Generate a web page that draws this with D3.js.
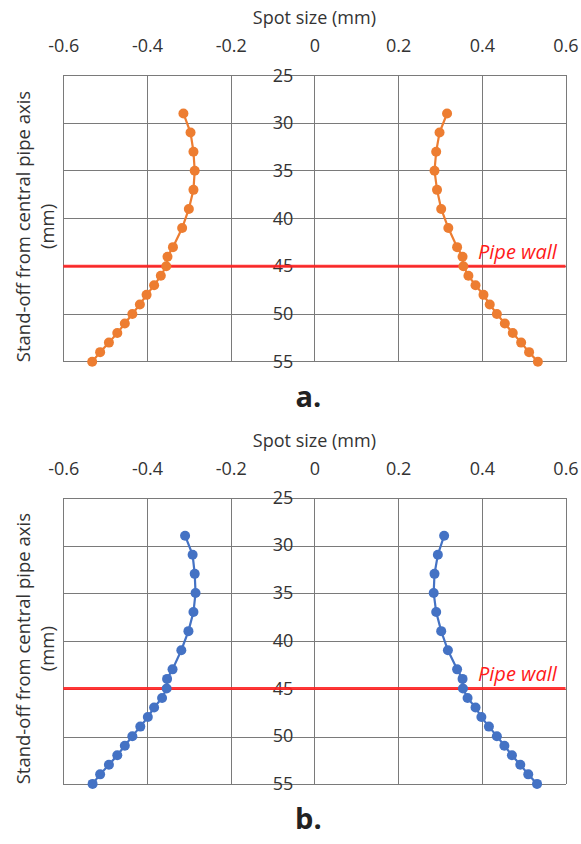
<!DOCTYPE html>
<html>
  <head>
    <title>Spot size vs stand-off</title>
    <script src="https://d3js.org/d3.v7.min.js"></script>
    <style>
      body { margin: 0; background: #fff; }
      text { font-family: "Open Sans", sans-serif; fill: #333; }
      .axis .domain { display: none; }
      .axis .tick line { display: none; }
      .axis .tick text { font-size: 18px; fill: #333; }
      .grid line { stroke: #7a7a7a; stroke-width: 1px; shape-rendering: crispEdges; }
      .axis__label { font-size: 18px; text-anchor: middle; }
      .ytitle { font-size: 18.5px; text-anchor: middle; }
      .panel__label { font-size: 29px; font-weight: bold; text-anchor: middle; fill: #222; }
      .wall__label { font-size: 20px; font-style: italic; fill: #ff1a1a; }
    </style>
  </head>
  <body>
    <svg width="581" height="844"></svg>
    <script>
      const standOff = [29, 31, 33, 35, 37, 39, 41, 43, 44, 45, 46, 47, 48, 49, 50, 51, 52, 53, 54, 55];
      const leftA  = [-0.313, -0.296, -0.289, -0.286, -0.289, -0.300, -0.316, -0.338, -0.351, -0.354,
                      -0.367, -0.383, -0.401, -0.417, -0.435, -0.453, -0.471, -0.491, -0.512, -0.531];
      const rightA = [0.317, 0.299, 0.291, 0.287, 0.293, 0.303, 0.320, 0.341, 0.354, 0.356,
                      0.368, 0.385, 0.404, 0.419, 0.436, 0.455, 0.474, 0.494, 0.513, 0.534];
      const leftB  = [-0.309, -0.291, -0.286, -0.284, -0.289, -0.301, -0.318, -0.339, -0.352, -0.353,
                      -0.364, -0.383, -0.398, -0.416, -0.435, -0.453, -0.471, -0.491, -0.512, -0.530];
      const rightB = [0.310, 0.295, 0.287, 0.285, 0.291, 0.303, 0.319, 0.341, 0.354, 0.355,
                      0.366, 0.385, 0.399, 0.417, 0.436, 0.454, 0.472, 0.492, 0.511, 0.532];
      const xTicks = [-0.6, -0.4, -0.2, 0, 0.2, 0.4, 0.6];
      const yTicks = [25, 30, 35, 40, 45, 50, 55];
      const pipeWall = 45;

      const svg = d3.select("svg");
      const plotLeft = 63.3, plotRight = 565.5, plotHeight = 286.4;

      const xScale = d3.scaleLinear().domain([-0.6, 0.6]).range([plotLeft, plotRight]);

      function drawPanel(top, left, right, color, label) {
        const g = svg.append("g").attr("transform", `translate(0, ${top})`);
        const yScale = d3.scaleLinear().domain([25, 55]).range([0, plotHeight]);

        // gridlines
        const grid = g.append("g").attr("class", "grid");
        grid.selectAll(".h").data(yTicks).enter().append("line")
          .attr("x1", plotLeft).attr("x2", plotRight)
          .attr("y1", d => Math.round(yScale(d)) + 0.5).attr("y2", d => Math.round(yScale(d)) + 0.5);
        grid.selectAll(".v").data(xTicks).enter().append("line")
          .attr("y1", 0).attr("y2", plotHeight)
          .attr("x1", d => Math.round(xScale(d)) + 0.5).attr("x2", d => Math.round(xScale(d)) + 0.5)
          .attr("stroke", d => (d === -0.6 || d === 0.6) ? "#999" : "#4a4a4a");

        // x axis on top
        g.append("g").attr("class", "axis")
          .attr("transform", "translate(0, -23)")
          .call(d3.axisTop(xScale).tickValues(xTicks).tickSize(0).tickPadding(0)
            .tickFormat(d => String(d)));
        g.append("text").attr("class", "axis__label")
          .attr("x", xScale(0)).attr("y", -51)
          .text("Spot size (mm)");

        // y axis at x = 0
        g.append("g").attr("class", "axis")
          .attr("transform", `translate(${xScale(0)}, 0)`)
          .call(d3.axisLeft(yScale).tickValues(yTicks).tickSize(0).tickPadding(21));

        // pipe wall line
        g.append("line")
          .attr("x1", plotLeft).attr("x2", plotRight)
          .attr("y1", yScale(pipeWall)).attr("y2", yScale(pipeWall))
          .attr("stroke", "#ff2020").attr("stroke-width", 3).attr("stroke-opacity", 0.9);
        g.append("text").attr("class", "wall__label")
          .attr("x", 478).attr("y", yScale(pipeWall) - 7)
          .text("Pipe wall");

        // series
        const line = d3.line().x(d => xScale(d[0])).y(d => yScale(d[1]));
        [left, right].forEach(series => {
          const pts = series.map((v, i) => [v, standOff[i]]);
          g.append("path").datum(pts)
            .attr("fill", "none").attr("stroke", color).attr("stroke-width", 2.2)
            .attr("d", line);
          g.selectAll(null).data(pts).enter().append("circle")
            .attr("cx", d => xScale(d[0])).attr("cy", d => yScale(d[1]))
            .attr("r", 5).attr("fill", color);
        });

        // y title
        const yt = g.append("text").attr("class", "ytitle")
          .attr("transform", `translate(24, ${plotHeight / 2 + 8}) rotate(-90)`);
        yt.append("tspan").attr("x", 0).attr("dy", "0.35em").text("Stand-off from central pipe axis");
        yt.append("tspan").attr("x", 0).attr("dy", "1.25em").text("(mm)");

        svg.append("text").attr("class", "panel__label")
          .attr("x", xScale(0) - 6).attr("y", top + plotHeight + 45)
          .text(label);
      }

      drawPanel(75.3, leftA, rightA, "#ed7d31", "a.");
      drawPanel(497.5, leftB, rightB, "#4472c4", "b.");
    </script>
  </body>
</html>
